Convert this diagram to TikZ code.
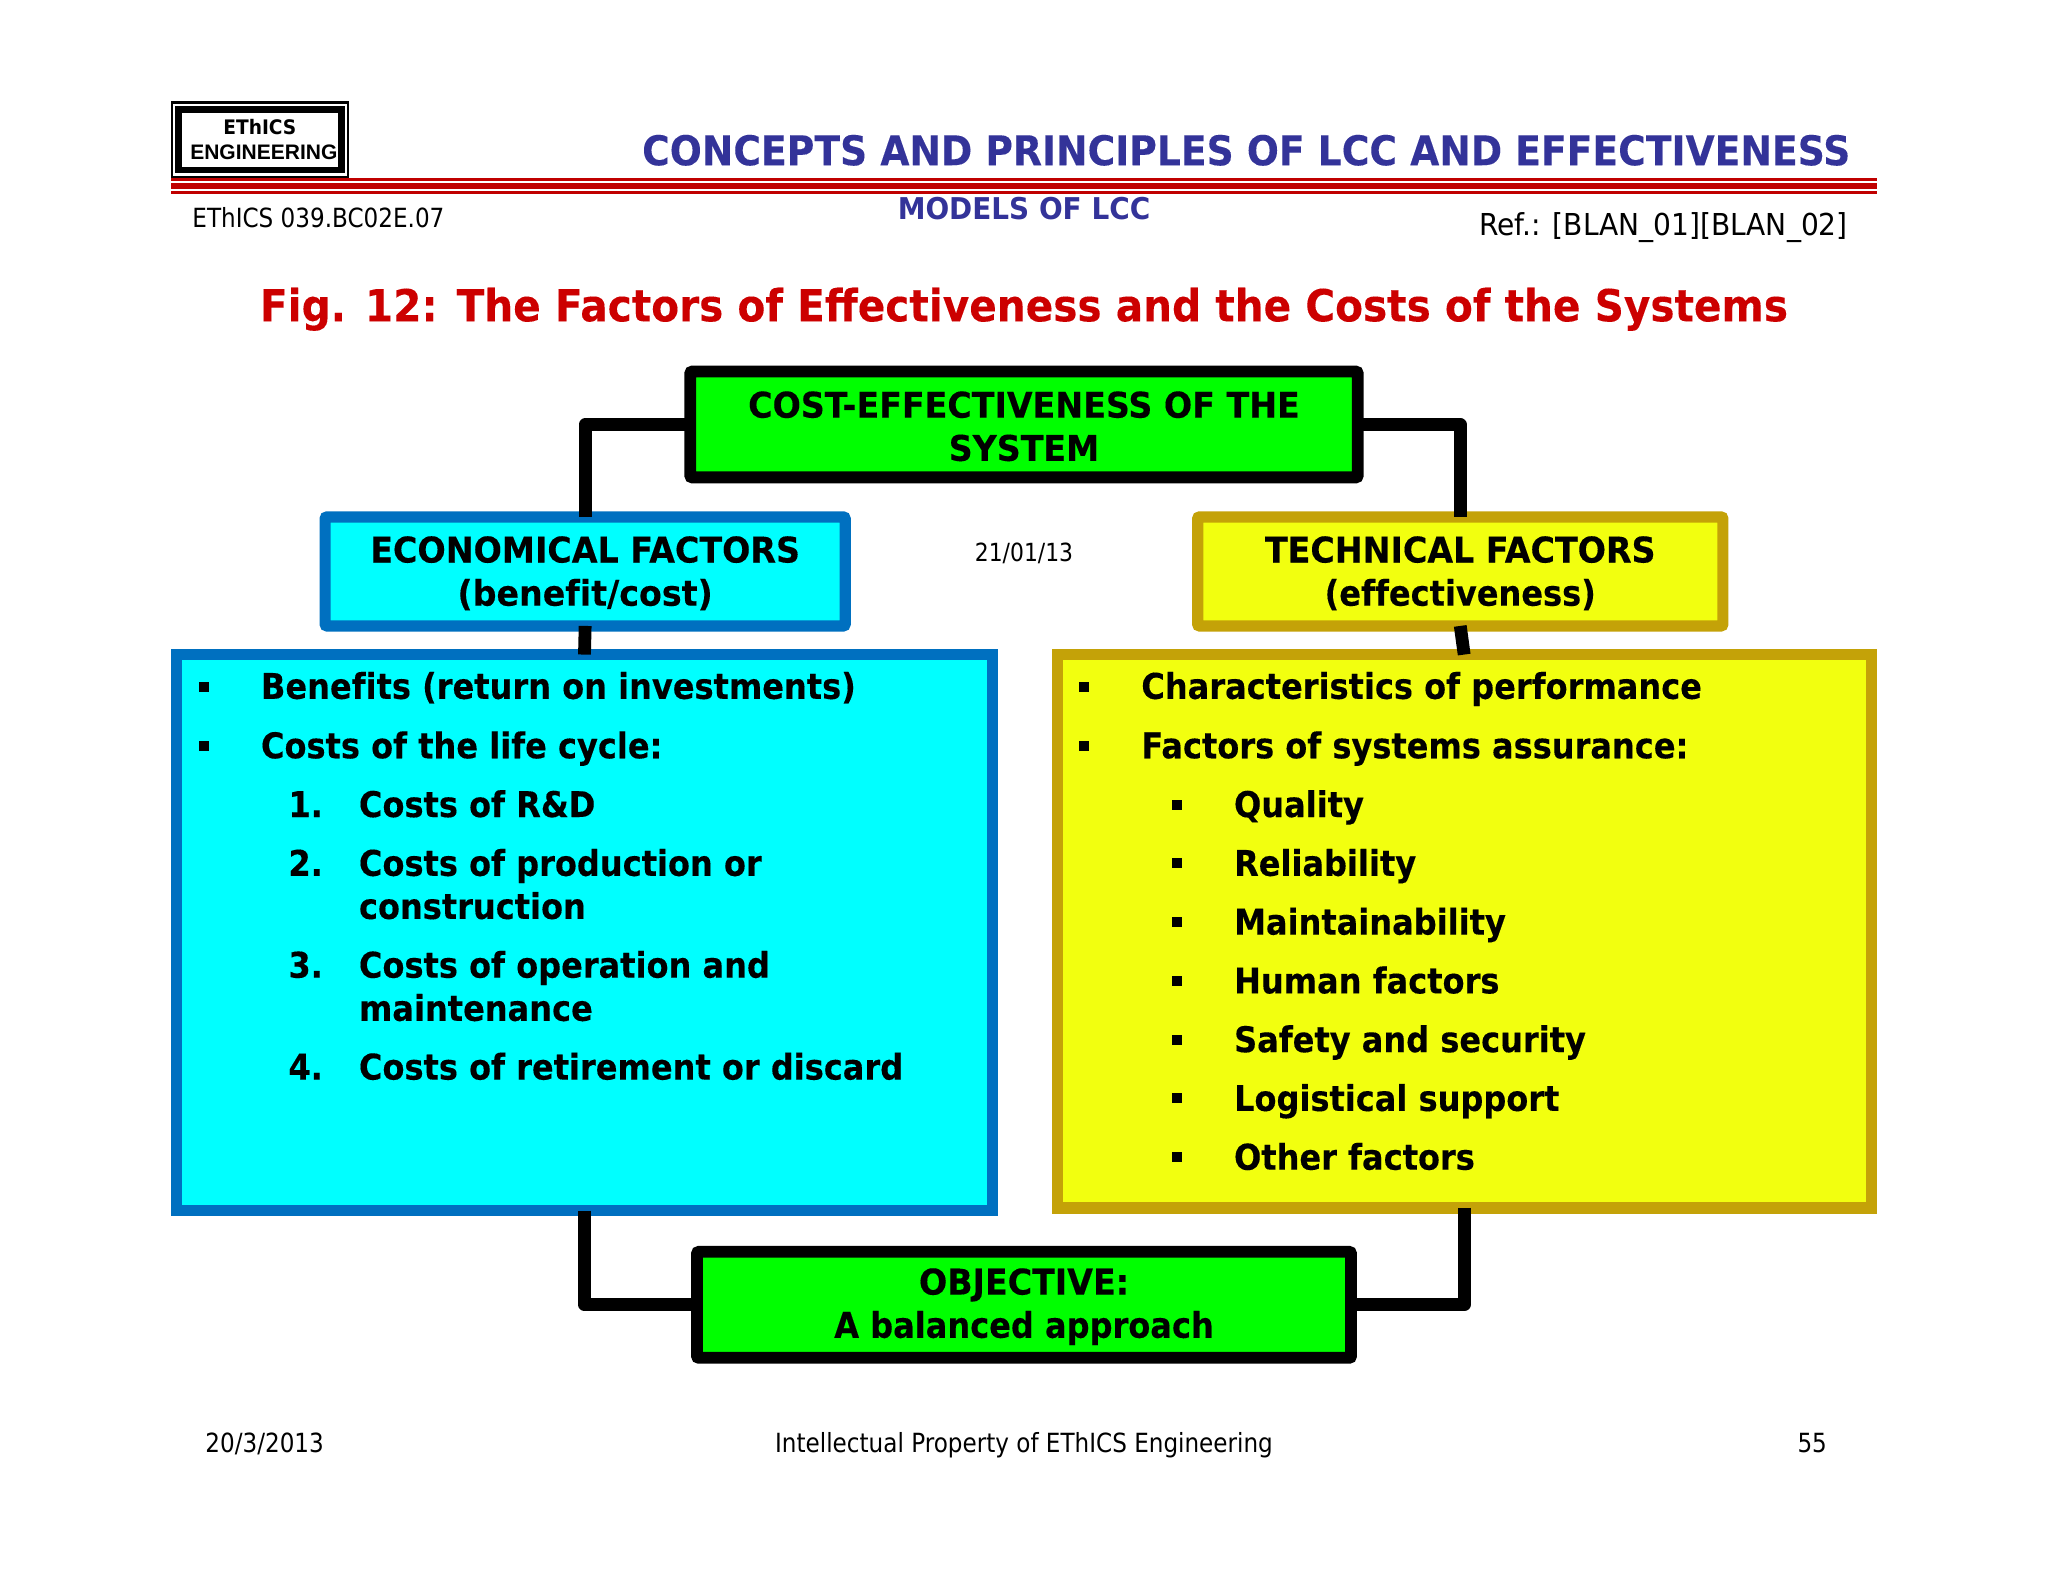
\documentclass[tikz,border=0pt]{standalone}
\usepackage{fontspec}
\setmainfont{DejaVu Sans}
\newfontfamily\tah[FakeStretch=0.905,Ligatures=CommonOff,BoldFeatures={FakeBold=0.25}]{DejaVu Sans}
\newfontfamily\tahc[FakeStretch=0.94,Ligatures=CommonOff,BoldFeatures={FakeBold=0.25}]{DejaVu Sans}
\newfontfamily\tahr[FakeStretch=0.875]{DejaVu Sans}
\newfontfamily\tahn[FakeStretch=0.93]{DejaVu Sans}
\newfontfamily\tahh[FakeStretch=0.919,BoldFeatures={FakeBold=0.15}]{DejaVu Sans}
\newfontfamily\arialf{Liberation Sans}
\definecolor{hblue}{HTML}{333399}
\definecolor{hred}{HTML}{CC0000}
\definecolor{lred}{HTML}{C00000}
\definecolor{cy}{HTML}{00FFFF}
\definecolor{cyb}{HTML}{0070C0}
\definecolor{ye}{HTML}{F2FF0F}
\definecolor{yeb}{HTML}{C4A208}
\definecolor{gr}{HTML}{00FF00}
\newcommand{\bt}{\tah\bfseries\fontsize{17.7}{21.6}\selectfont}
\newcommand{\bc}{\tahc\bfseries\fontsize{17.7}{21.6}\selectfont}
\newcommand{\rt}{\tahr\fontsize{13.2}{16}\selectfont}
\newcommand{\lo}{\rule{0pt}{15pt}}
\tikzset{
 x=0.65306pt,y=-0.65306pt,
 boxb/.style={draw,line width=5.6pt,rounded corners=1pt,outer sep=0pt,inner sep=0pt,align=center,font=\bc,text=black},
 greenbox/.style={boxb,draw=black,fill=gr,line width=5.9pt},
 cyanbox/.style={boxb,draw=cyb,fill=cy},
 yellowbox/.style={boxb,draw=yeb,fill=ye},
 listbox/.style={rounded corners=0pt},
 conn/.style={draw=black,line width=6.4pt,line join=round},
 item/.style={anchor=base west,inner sep=0pt,font=\bt,xshift=-0.3pt,yshift=0.3pt},
 bul/.style={fill=black,minimum size=5pt,inner sep=0pt},
 small/.style={inner sep=0pt,font=\rt,text=black},
}
\begin{document}
\begin{tikzpicture}
\useasboundingbox (0,0) rectangle (1568,1211.2);
% logo
\node[draw=black,line width=1.2pt,minimum width=88pt,minimum height=37.2pt,inner sep=0pt] (logoa) at (199,107) {};
\node[draw=black,line width=3.3pt,minimum width=81.3pt,minimum height=30.1pt,inner sep=0pt] (logob) at (199,107) {};
\node[anchor=base,inner sep=0pt,font=\tahn\bfseries\fontsize{10}{12}\selectfont] (logot) at (199,102.8) {EThICS};
\node[anchor=base,inner sep=0pt,font=\arialf\bfseries\fontsize{10.5}{12}\selectfont] (logoe) at (202,121.8) {ENGINEERING};
% header rules
\fill[lred] (131,136.3) rectangle (1437,138.6);
\fill[lred] (131,140.2) rectangle (1437,144.8);
\fill[lred] (131,146.3) rectangle (1437,148.3);
\node[anchor=base east,inner sep=0pt,text=hblue,font=\tahh\bfseries\fontsize{20.5}{24}\selectfont] (head) at (1417,126.5) {CONCEPTS AND PRINCIPLES OF LCC AND EFFECTIVENESS};
\node[anchor=base,inner sep=0pt,text=hblue,font=\tahn\bfseries\fontsize{15}{18}\selectfont] (models) at (784,168) {MODELS OF LCC};
\node[small,anchor=base west] (code) at (147,174) {EThICS 039.BC02E.07};
\node[small,anchor=base east,font=\tahn\fontsize{15.1}{18}\selectfont] (ref) at (1415,180) {Ref.: [BLAN\_01][BLAN\_02]};
\node[anchor=base,inner sep=0pt,text=hred,font=\tahh\bfseries\fontsize{22.1}{28}\selectfont] (title) at (784,246) {Fig. 12: The Factors of Effectiveness and the Costs of the Systems};
% boxes
\node[greenbox,minimum width=333.7pt,minimum height=52.9pt] (top) at (784,325) {\lo COST-EFFECTIVENESS OF THE\\SYSTEM};
\node[cyanbox,minimum width=260pt,minimum height=54.5pt] (econ) at (448,437.5) {\lo ECONOMICAL FACTORS\\(benefit/cost)};
\node[yellowbox,minimum width=262.6pt,minimum height=54.5pt] (tech) at (1118,437.5) {\lo TECHNICAL FACTORS\\{\bt (effectiveness)}};
\node[cyanbox,listbox,minimum width=408pt,minimum height=278pt] (ecolist) at (447.5,714) {};
\node[yellowbox,listbox,minimum width=407pt,minimum height=276.7pt] (techlist) at (1121,713) {};
\node[greenbox,minimum width=327pt,minimum height=53pt] (obj) at (784,999) {\lo OBJECTIVE:\\{\bt A balanced approach}};
\node[small,anchor=center,font=\tahr\fontsize{12.5}{15}\selectfont] (date) at (784,424) {21/01/13};
% connectors
\draw[conn] (top.west) -| (econ.north);
\draw[conn] (top.east) -| (tech.north);
\draw[conn] (econ.south) -- (ecolist.north);
\draw[conn] (tech.south) -- (techlist.north);
\draw[conn] (ecolist.south) |- (obj.west);
\draw[conn] (techlist.south) |- (obj.east);
% left list
\node[bul] (b1) at (156,526) {};
\node[item] (t1) at (200,535.5) {Benefits (return on investments)};
\node[bul] (b2) at (156,571) {};
\node[item] (t2) at (200,581) {Costs of the life cycle:};
\node[item] (n1) at (221,626) {1.};
\node[item] (c1) at (275,626) {Costs of R\&D};
\node[item] (n2) at (221,671) {2.};
\node[item] (c2) at (275,671) {Costs of production or};
\node[item] (c2b) at (275,704) {construction};
\node[item] (n3) at (221,749) {3.};
\node[item] (c3) at (275,749) {Costs of operation and};
\node[item] (c3b) at (275,782) {maintenance};
\node[item] (n4) at (221,827) {4.};
\node[item] (c4) at (275,827) {Costs of retirement or discard};
% right list
\node[bul] (r1) at (830,526) {};
\node[item] (rt1) at (874,535.5) {Characteristics of performance};
\node[bul] (r2) at (830,571) {};
\node[item] (rt2) at (874,581) {Factors of systems assurance:};
\node[bul] (s1) at (901,616) {};
\node[item] (st1) at (945,626) {Quality};
\node[bul] (s2) at (901,661) {};
\node[item] (st2) at (945,671) {Reliability};
\node[bul] (s3) at (901,706) {};
\node[item] (st3) at (945,716) {Maintainability};
\node[bul] (s4) at (901,751) {};
\node[item] (st4) at (945,761) {Human factors};
\node[bul] (s5) at (901,796) {};
\node[item] (st5) at (945,806) {Safety and security};
\node[bul] (s6) at (901,841) {};
\node[item] (st6) at (945,851) {Logistical support};
\node[bul] (s7) at (901,886) {};
\node[item] (st7) at (945,896) {Other factors};
% footer
\node[small,anchor=base west] (f1) at (157,1112) {20/3/2013};
\node[small,anchor=base] (f2) at (784,1112) {Intellectual Property of EThICS Engineering};
\node[small,anchor=base east] (f3) at (1399,1112) {55};
\end{tikzpicture}
\end{document}
